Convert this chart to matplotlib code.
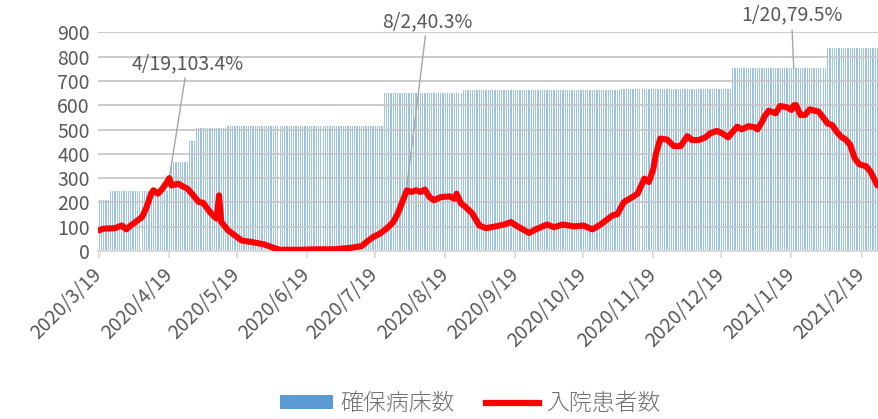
import numpy as np
import pandas as pd
import matplotlib
matplotlib.use("Agg")
import matplotlib.pyplot as plt
from matplotlib.patches import Patch
from matplotlib.lines import Line2D

plt.rcParams['font.family'] = ['Noto Sans CJK JP', 'DejaVu Sans']

# -----------------------------------------------------------------------
# Data
# -----------------------------------------------------------------------
start_date = pd.Timestamp("2020-03-19")
end_date = pd.Timestamp("2021-02-26")

# secured beds: day (since 2020/3/19) where a new level starts, and the level
bed_change_days = [0, 5, 31, 32, 40, 43, 57, 126, 161, 231, 280, 322]
bed_levels = [210, 245, 290, 365, 455, 508, 515, 650, 662, 668, 755, 835]

# inpatients: day since 2020/3/19 and count
patient_days = [0, 2, 7, 10, 12, 14, 16, 19, 21, 23, 24, 26, 28, 30, 31, 32,
                35, 37, 39, 41, 44, 46, 49, 51, 52, 53, 54, 57, 60, 63, 68,
                73, 77, 80, 89, 96, 104, 111, 116, 118, 121, 124, 127, 130,
                132, 134, 136, 138, 140, 142, 144, 146, 148, 151, 155, 157,
                158, 160, 162, 165, 168, 171, 175, 179, 182, 185, 190, 193,
                198, 201, 205, 210, 214, 218, 221, 224, 227, 229, 232, 235,
                238, 240, 241, 243, 245, 246, 248, 251, 254, 257, 260, 262,
                265, 268, 270, 273, 276, 278, 282, 284, 287, 290, 291, 293,
                294, 296, 299, 301, 304, 306, 307, 308, 310, 312, 314, 318,
                320, 322, 324, 326, 328, 330, 332, 334, 336, 339, 341, 344]
patient_values = [85, 92, 94, 105, 89, 105, 119, 140, 181, 236, 250, 236, 257,
                  284, 300, 270, 277, 266, 257, 236, 202, 198, 160, 140, 133,
                  229, 119, 85, 64, 43, 36, 27, 13, 5, 5, 7, 7, 13, 20, 36, 57,
                  71, 92, 119, 154, 202, 250, 243, 250, 243, 253, 222, 209,
                  222, 225, 215, 236, 195, 181, 154, 105, 94, 101, 109, 119,
                  101, 74, 89, 109, 98, 109, 101, 105, 89, 105, 126, 147, 151,
                  202, 218, 236, 277, 298, 284, 340, 395, 463, 459, 432, 432,
                  473, 457, 457, 468, 484, 495, 481, 468, 512, 501, 514, 509,
                  501, 532, 553, 578, 567, 597, 592, 581, 600, 601, 560, 560,
                  583, 574, 550, 525, 519, 491, 470, 459, 436, 381, 357, 349,
                  326, 270]

tick_dates = pd.date_range("2020-03-19", "2021-02-19", freq=pd.DateOffset(months=1))

annotations = [
    ("4/19,103.4%", 31, 300, 39, 773),
    ("8/2,40.3%", 136, 265, 145, 946),
    ("1/20,79.5%", 307, 752, 306, 971),
]

# -----------------------------------------------------------------------
# Build series
# -----------------------------------------------------------------------
days = pd.date_range(start_date, end_date, freq="D")
n_days = len(days)
seg_len = np.diff(bed_change_days + [n_days])
beds = np.repeat(bed_levels, seg_len)
patient_dates = start_date + pd.to_timedelta(patient_days, unit="D")

# -----------------------------------------------------------------------
# Plot
# -----------------------------------------------------------------------
fig = plt.figure(figsize=(8.79, 4.19), dpi=100)
ax = fig.add_axes([0.1115, 0.401, 0.888, 0.5215])

bar_color = '#5b9bd5'
text_color = '#595959'

ax.bar(days, beds, width=0.55, color=bar_color, alpha=0.6, linewidth=0, zorder=1)
ax.plot(patient_dates, patient_values, color='#ff0000', lw=4.4,
        solid_joinstyle='round', solid_capstyle='round', zorder=4)

ax.set_ylim(0, 900)
ax.set_yticks(np.arange(0, 901, 100))
ax.set_xlim(start_date - pd.Timedelta(hours=12), end_date + pd.Timedelta(hours=12))
ax.set_xticks(tick_dates)
ax.set_xticklabels([f"{d.year}/{d.month}/{d.day}" for d in tick_dates],
                   rotation=45, ha='right', va='center', rotation_mode='anchor')

ax.grid(axis='y', color='#c8c8c8', lw=1.3, zorder=2)
ax.set_axisbelow(False)
for s in ['top', 'right', 'left']:
    ax.spines[s].set_visible(False)
ax.spines['bottom'].set_color('#d9d9d9')
ax.spines['bottom'].set_linewidth(1.5)
ax.spines['bottom'].set_zorder(3)
ax.tick_params(axis='y', length=0, labelsize=14, labelcolor=text_color, pad=6)
ax.tick_params(axis='x', length=5, width=1.2, color='#d9d9d9',
               labelsize=14, labelcolor=text_color, pad=10)

for label, xd, yv, xt, yt in annotations:
    ax.annotate(label,
                xy=(start_date + pd.Timedelta(days=xd), yv),
                xytext=(start_date + pd.Timedelta(days=xt), yt),
                ha='center', va='center', fontsize=14, color=text_color,
                annotation_clip=False,
                arrowprops=dict(arrowstyle='-', color='#a6a6a6', lw=1,
                                shrinkA=1, shrinkB=0))

handles = [Patch(facecolor=bar_color, edgecolor='none'),
           Line2D([0], [0], color='#ff0000', lw=4.5)]
fig.legend(handles, ['確保病床数', '入院患者数'], loc='center',
           bbox_to_anchor=(0.535, 0.036), ncol=2, frameon=False,
           prop={'size': 16.5, 'weight': 'light'}, labelcolor='#707070',
           handlelength=2.3, handleheight=0.55, handletextpad=0.3,
           columnspacing=1.4, borderpad=0.1)

fig.savefig('out.png', dpi=100)
